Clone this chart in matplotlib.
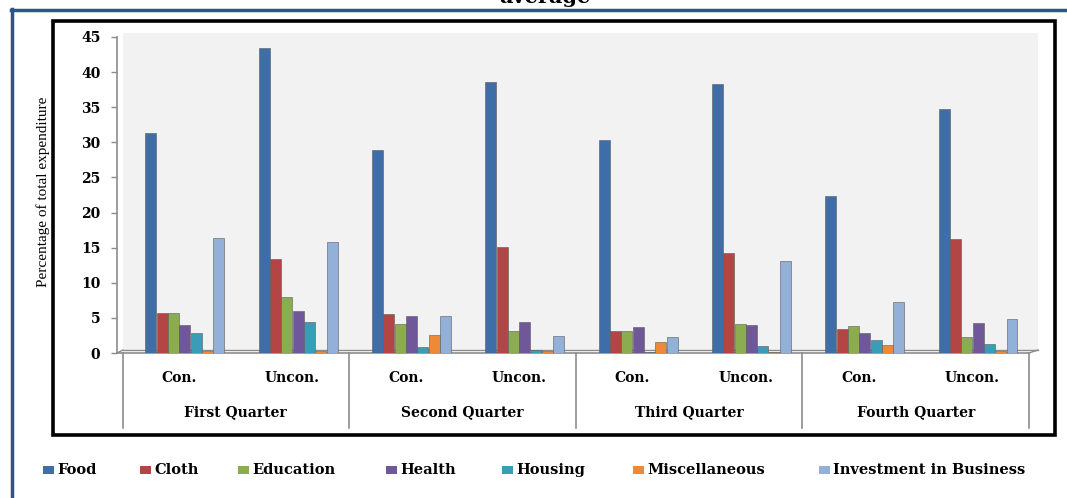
import matplotlib
matplotlib.use("Agg")
import matplotlib.pyplot as plt
from matplotlib.lines import Line2D
from matplotlib.patches import Rectangle
import numpy as np

quarters = ["First Quarter", "Second Quarter", "Third Quarter", "Fourth Quarter"]
groups = ["Con.", "Uncon."]
series_names = ["Food", "Cloth", "Education", "Health", "Housing",
                "Miscellaneous", "Investment in Business"]
colors = ["#3E6DA8", "#B34644", "#8CAD4F", "#70579A", "#3A9DB8", "#EE8A37", "#93B0D8"]

# values per category: Q1 Con, Q1 Uncon, Q2 Con, Q2 Uncon, Q3 Con, Q3 Uncon, Q4 Con, Q4 Uncon
food = [31.3, 43.5, 28.9, 38.6, 30.3, 38.3, 22.4, 34.7]
cloth = [5.7, 13.4, 5.6, 15.1, 3.1, 14.2, 3.4, 16.2]
education = [5.7, 8.0, 4.1, 3.1, 3.1, 4.2, 3.9, 2.3]
health = [4.0, 6.0, 5.2, 4.4, 3.7, 4.0, 2.8, 4.3]
housing = [2.8, 4.4, 0.8, 0.4, 0.2, 1.0, 1.8, 1.3]
misc = [0.3, 0.3, 2.5, 0.3, 1.5, 0.2, 1.1, 0.3]
investment = [16.4, 15.8, 5.3, 2.4, 2.3, 13.1, 7.3, 4.9]
yticks = [0, 5, 10, 15, 20, 25, 30, 35, 40, 45]

series = [food, cloth, education, health, housing, misc, investment]

W, H = 1067, 498
fig = plt.figure(figsize=(W / 100, H / 100), dpi=100)
fig.patch.set_facecolor("white")

def fx(x):
    return x / W

def fy(y):
    return 1 - y / H

SERIF = ["Liberation Serif", "DejaVu Serif"]
BSERIF = ["DejaVu Serif"]

# outer blue border (partial)
fig.add_artist(Line2D([fx(12), fx(12)], [fy(9), fy(498)], color="#2B5487", lw=2.5))
fig.add_artist(Line2D([fx(11), fx(1067)], [fy(10), fy(10)], color="#2B5487", lw=2.5))
# black chart frame
fig.add_artist(Rectangle((fx(53), fy(435)), fx(1055) - fx(53), fy(21) - fy(435),
                         fill=False, edgecolor="black", lw=2.6, transform=fig.transFigure))
# title (clipped at the top edge, as in the source image)
fig.text(fx(545), fy(3), "average", ha="center", va="baseline", fontsize=15,
         fontweight="bold", family=BSERIF)

# axes: pixel 117 -> 1038 horizontally, 33 -> 353 vertically
ax_l, ax_r, ax_t, ax_b = 117, 1038, 33, 353
ax = fig.add_axes([fx(ax_l), fy(ax_b), fx(ax_r) - fx(ax_l), fy(ax_t) - fy(ax_b)])
ppu = (1029 - 122.5) / 8.0
x0 = (ax_l - 122.5) / ppu
x1 = (ax_r - 122.5) / ppu
ypu = (353 - 37) / 45.0
ax.set_xlim(x0, x1)
ax.set_ylim(0, (353 - ax_t) / ypu)
ax.patch.set_alpha(0)

# back wall
gx0 = (123 - 122.5) / ppu
ax.add_patch(Rectangle((gx0, 3 / ypu), x1 - gx0, 45.6,
                       facecolor="#F2F2F2", edgecolor="none", zorder=0))

bar_w = 0.097
step = 0.1
n = len(series)
for k, (vals, col) in enumerate(zip(series, colors)):
    xs = np.arange(len(vals)) + 0.55 + (k - (n - 1) / 2) * step
    ax.bar(xs, vals, width=bar_w, color=col, edgecolor="#5a5a5a", linewidth=0.4,
           zorder=3, label=series_names[k])

# floor lines
d = 3 / ypu
ax.plot([x0, 8.0], [0, 0], color="#8c8c8c", lw=1.2, zorder=2, clip_on=False)
ax.plot([gx0, x1], [d, d], color="#8c8c8c", lw=1.0, zorder=2, clip_on=False)
ax.plot([x0, gx0], [0, d], color="#8c8c8c", lw=1.0, zorder=2, clip_on=False)
ax.plot([8.0, x1], [0, d], color="#8c8c8c", lw=1.0, zorder=2, clip_on=False)

for s in ["top", "right", "bottom"]:
    ax.spines[s].set_visible(False)
ax.spines["left"].set_color("#8c8c8c")
ax.spines["left"].set_linewidth(1.2)
ax.spines["left"].set_bounds(0, 45)
ax.set_yticks(yticks)
ax.set_yticklabels([str(v) for v in yticks], fontsize=10, fontweight="bold", family=BSERIF)
ax.tick_params(axis="y", length=4, width=1, color="#8c8c8c", pad=8)
ax.set_xticks([])

# y-axis title
fig.text(fx(43), fy(192), "Percentage of total expenditure", rotation=90,
         ha="center", va="center", fontsize=11, family=SERIF)

# category table below the axis
trans = ax.get_xaxis_transform()
hpx = ax_b - ax_t
for b in [0, 2, 4, 6, 8]:
    ax.add_artist(Line2D([b, b], [0, -(428 - 353) / hpx], color="#8c8c8c",
                         lw=1.2, transform=trans, clip_on=False))
for i in range(8):
    ax.text(i + 0.5, -(378 - 353) / hpx, groups[i % 2], transform=trans,
            ha="center", va="center", fontsize=10, fontweight="bold", family=BSERIF)
for q, name in enumerate(quarters):
    ax.text(2 * q + 1, -(412 - 353) / hpx, name, transform=trans,
            ha="center", va="center", fontsize=10, fontweight="bold", family=BSERIF)

# legend
leg_x = [43, 140, 238, 386, 502, 633, 819]
for k, (lab, col) in enumerate(zip(series_names, colors)):
    fig.add_artist(Rectangle((fx(leg_x[k]), fy(474)), fx(11), fy(466) - fy(474),
                             facecolor=col, edgecolor="none", transform=fig.transFigure))
    fig.text(fx(leg_x[k] + 14), fy(470), lab, ha="left", va="center", fontsize=10.5,
             fontweight="bold", family=BSERIF)

fig.savefig("out.png", dpi=100)
